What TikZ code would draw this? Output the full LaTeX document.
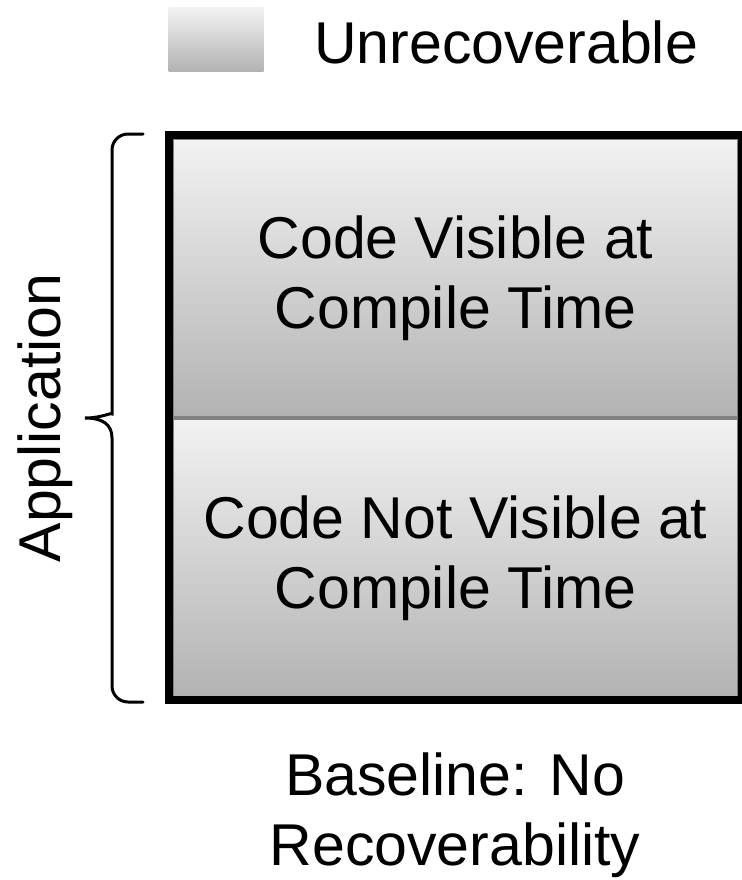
\documentclass[tikz,border=0pt]{standalone}
\usepackage{fontspec}
\setmainfont{Liberation Sans}
\usetikzlibrary{positioning}

\definecolor{shadetop}{gray}{0.95}
\definecolor{shadebot}{gray}{0.70}

\begin{document}
\begin{tikzpicture}[
    x=1pt, y=-1pt,
    every node/.style={font=\fontsize{59}{70}\selectfont},
    panel/.style={rectangle, draw=gray, line width=1.2pt, top color=shadetop, bottom color=shadebot, minimum width=565pt, minimum height=278pt, align=center, inner sep=0pt},
    legendbox/.style={rectangle, top color=shadetop, bottom color=shadebot, minimum width=95pt, minimum height=64pt, inner sep=0pt},
    label/.style={align=center, inner sep=0pt},
    bracestyle/.style={line width=3pt, line cap=round}
]
    \useasboundingbox (0,0) rectangle (741,880);

    % legend
    \node[legendbox] (legend) at (216,40) {};
    \node[label, anchor=west] (legendtext) at (314,42) {Unrecoverable};

    % the two halves of the application
    \node[panel] (visible) at (455.5,278) {Code Visible at\\Compile Time};
    \node[panel] (hidden) at (455.5,558) {Code Not Visible at\\Compile Time};
    \draw[line width=8pt] (169,135) rectangle (742,700);

    % brace and labels
    \coordinate (bracetop) at (143,134);
    \coordinate (bracetip) at (85,418);
    \coordinate (bracebot) at (143,702);
    \draw[bracestyle] (bracetop) [rounded corners=16pt] -- (112,134) -- (112,398)
        [sharp corners] .. controls (112,412) and (102,418) .. (bracetip)
        .. controls (102,418) and (112,424) .. (112,438)
        [rounded corners=16pt] -- (112,702) -- (bracebot);
    \node[label, rotate=90] (app) at (45,418) {Application};

    \node[label] (baseline) at (455,815) {Baseline: No\\Recoverability};
\end{tikzpicture}
\end{document}
